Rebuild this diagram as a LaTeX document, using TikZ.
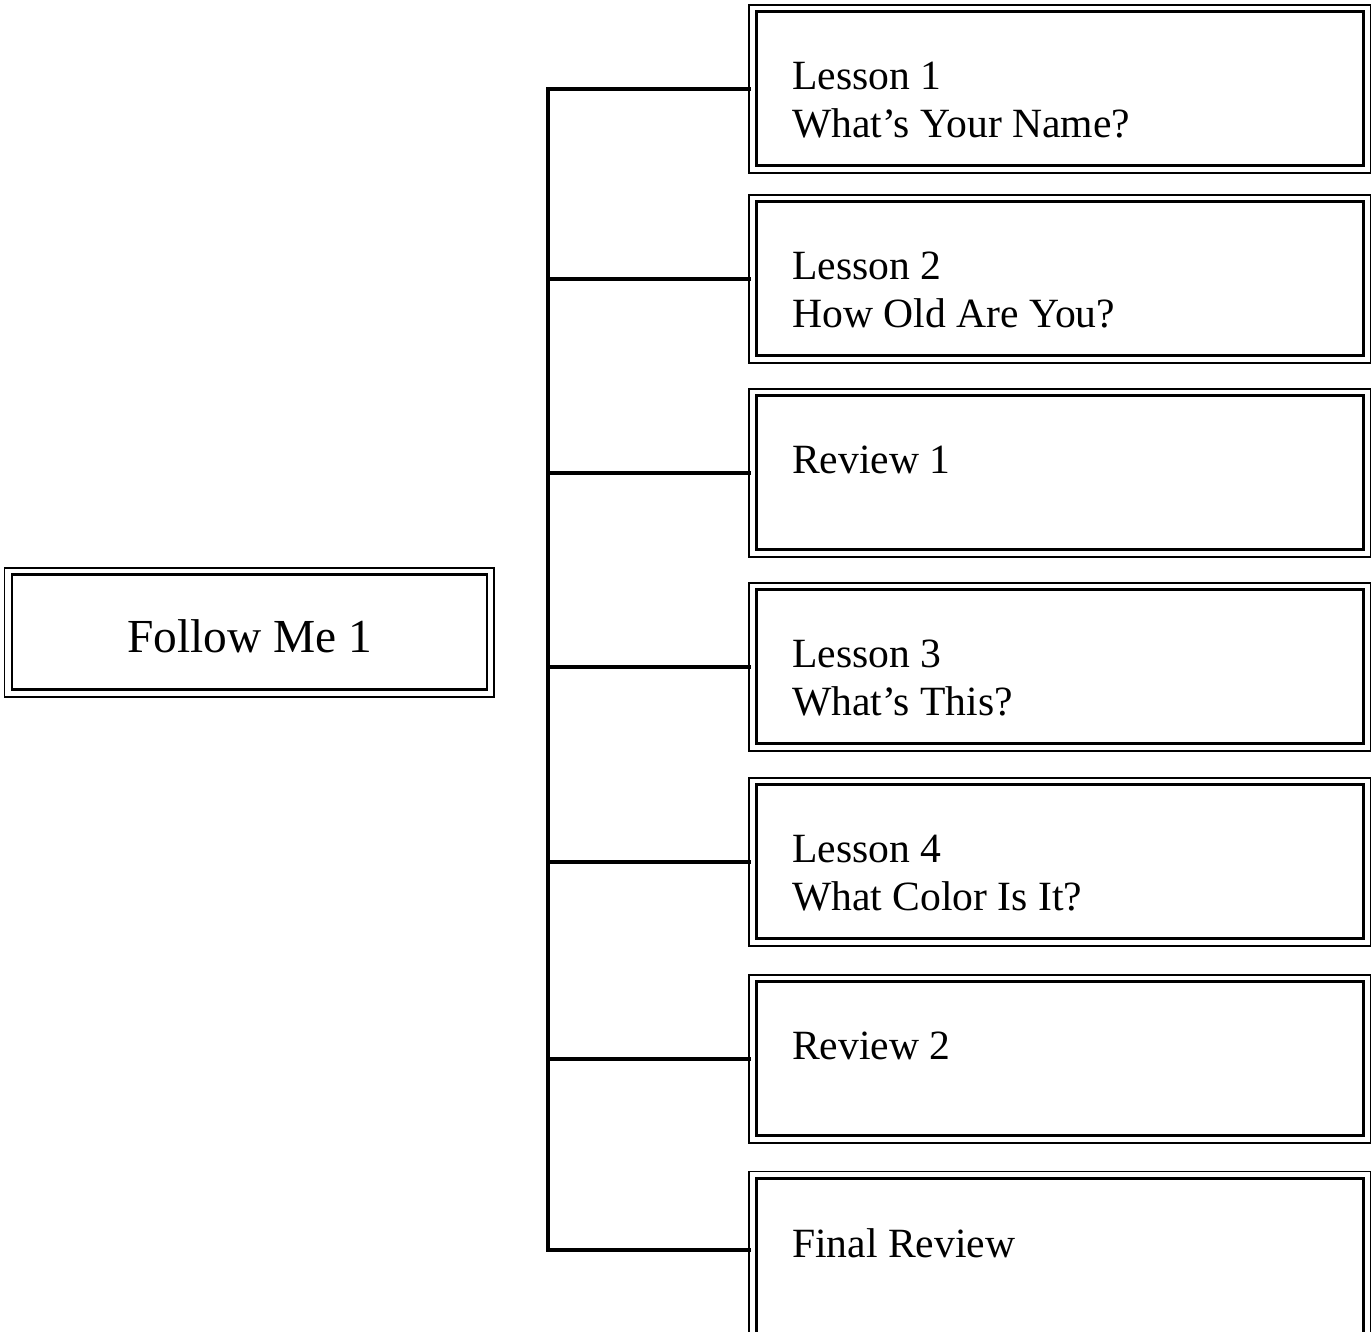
\documentclass[tikz,border=0pt]{standalone}
\usepackage{fontspec}
\setmainfont{Liberation Serif}
\begin{document}
\begin{tikzpicture}[lesson/.style = {draw,
                                line width=0.85pt,
                                minimum width=6.07cm,
                                minimum height=1.54cm,
                                inner sep=0pt},
                    frame/.style = {line width=0.45pt},
                    caption/.style = {inner sep=0pt,
                                align=left,
                                anchor=north west,
                                font=\fontsize{11.84}{13.66}\selectfont},
                    link/.style = {line width=1pt, line cap=rect}]
                    \useasboundingbox (0,0) rectangle (13.71,13.32);
                    \clip (0,0) rectangle (13.71,13.32);
                    % Book
                    \node[lesson,minimum width=4.75cm,minimum height=1.15cm,text height=0.41cm,
                          font=\fontsize{13.49}{16}\selectfont] (book) at (2.495,6.995) {Follow Me 1};
                    \draw[frame] ([shift={(-0.06,0.055)}]book.north west) rectangle ([shift={(0.055,-0.055)}]book.south east);
                    % Lesson boxes
                    \node[lesson] (b1) at (10.595,12.43) {};
                    \node[lesson] (b2) at (10.595,10.53) {};
                    \node[lesson] (b3) at (10.595,8.59) {};
                    \node[lesson] (b4) at (10.595,6.65) {};
                    \node[lesson] (b5) at (10.595,4.70) {};
                    \node[lesson] (b6) at (10.595,2.73) {};
                    \node[lesson,anchor=north,minimum height=1.8cm] (b7) at (10.595,1.55) {};
                    % Outer frames
                    \draw[frame] ([shift={(-0.055,0.055)}]b1.north west) rectangle ([shift={(0.06,-0.055)}]b1.south east);
                    \draw[frame] ([shift={(-0.055,0.055)}]b2.north west) rectangle ([shift={(0.06,-0.055)}]b2.south east);
                    \draw[frame] ([shift={(-0.055,0.055)}]b3.north west) rectangle ([shift={(0.06,-0.055)}]b3.south east);
                    \draw[frame] ([shift={(-0.055,0.055)}]b4.north west) rectangle ([shift={(0.06,-0.055)}]b4.south east);
                    \draw[frame] ([shift={(-0.055,0.055)}]b5.north west) rectangle ([shift={(0.06,-0.055)}]b5.south east);
                    \draw[frame] ([shift={(-0.055,0.055)}]b6.north west) rectangle ([shift={(0.06,-0.055)}]b6.south east);
                    \draw[frame] ([shift={(-0.055,0.055)}]b7.north west) rectangle ([shift={(0.06,-0.055)}]b7.south east);
                    % Box texts
                    \node[caption] (t1) at ([shift={(0.37,-0.51)}]b1.north west) {Lesson 1\\What's Your Name?};
                    \node[caption] (t2) at ([shift={(0.37,-0.51)}]b2.north west) {Lesson 2\\How Old Are You?};
                    \node[caption] (t3) at ([shift={(0.37,-0.51)}]b3.north west) {Review 1};
                    \node[caption] (t4) at ([shift={(0.37,-0.51)}]b4.north west) {Lesson 3\\What's This?};
                    \node[caption] (t5) at ([shift={(0.37,-0.51)}]b5.north west) {Lesson 4\\What Color Is It?};
                    \node[caption] (t6) at ([shift={(0.37,-0.51)}]b6.north west) {Review 2};
                    \node[caption] (t7) at ([shift={(0.37,-0.51)}]b7.north west) {Final Review};
                    % Connectors
                    \coordinate (j7) at (5.48,0.82);
                    \draw[link] (b1.west -| j7) -- (j7);
                    \draw[link] (b1.west -| j7) -- ([xshift=-0.055cm]b1.west);
                    \draw[link] (b2.west -| j7) -- ([xshift=-0.055cm]b2.west);
                    \draw[link] (b3.west -| j7) -- ([xshift=-0.055cm]b3.west);
                    \draw[link] (b4.west -| j7) -- ([xshift=-0.055cm]b4.west);
                    \draw[link] (b5.west -| j7) -- ([xshift=-0.055cm]b5.west);
                    \draw[link] (b6.west -| j7) -- ([xshift=-0.055cm]b6.west);
                    \draw[link] (j7) -- ([xshift=-0.055cm]j7 -| b7.west);
                \end{tikzpicture}
\end{document}
